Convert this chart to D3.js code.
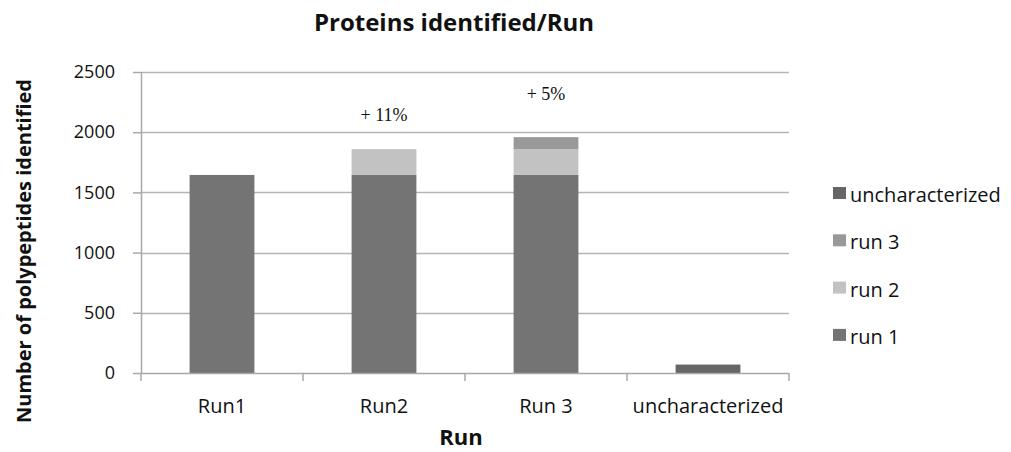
<!DOCTYPE html>
<html lang="en">
<head>
    <meta charset="UTF-8">
    <title>Proteins identified/Run</title>
    <style>
        body { margin: 0; background: #fff; }
        svg text { font-family: "Open Sans", "Noto Sans", sans-serif; fill: #111; }
    </style>
</head>
<body>
    <div id="chart"></div>

    <script src="https://d3js.org/d3.v7.min.js"></script>
    <script>
        // Data.
        var categories = ["Run1", "Run2", "Run 3", "uncharacterized"];
        var run1 = [1645, 1645, 1645, 0];
        var run2 = [0, 214, 214, 0];
        var run3 = [0, 0, 100, 0];
        var uncharacterized = [0, 0, 0, 70];
        var seriesNames = ["run 1", "run 2", "run 3", "uncharacterized"];
        var yTicks = [0, 500, 1000, 1500, 2000, 2500];
        var notes = ["", "+ 11%", "+ 5%", ""];
        var noteLevels = [0, 2090, 2265, 0];

        var colors = {
            "run 1": "#747474",
            "run 2": "#c2c2c2",
            "run 3": "#999999",
            "uncharacterized": "#666666"
        };

        var W = 1011, H = 452;
        var margin = { top: 72, right: 222, bottom: 79, left: 141 };
        var width = W - margin.left - margin.right,
            height = H - margin.top - margin.bottom;

        var rows = categories.map(function(c, i) {
            return { cat: c, "run 1": run1[i], "run 2": run2[i], "run 3": run3[i], "uncharacterized": uncharacterized[i] };
        });

        var stacked = d3.stack().keys(seriesNames)(rows);

        var x = d3.scaleBand()
            .domain(categories)
            .range([0, width])
            .paddingInner(0.6)
            .paddingOuter(0.3);

        var y = d3.scaleLinear()
            .domain([0, 2500])
            .range([height, 0]);

        var svg = d3.select("#chart").append("svg")
            .attr("width", W)
            .attr("height", H);

        var g = svg.append("g")
            .attr("transform", "translate(" + margin.left + "," + margin.top + ")");

        // gridlines
        g.append("g")
            .selectAll("line")
            .data(yTicks.slice(1))
            .enter().append("line")
            .attr("x1", 0).attr("x2", width)
            .attr("y1", function(d) { return Math.round(y(d)) + 0.5; })
            .attr("y2", function(d) { return Math.round(y(d)) + 0.5; })
            .attr("stroke", "#b4b4b4")
            .attr("stroke-width", 1.5);

        // bars
        g.append("g")
            .selectAll("g")
            .data(stacked)
            .enter().append("g")
            .attr("fill", function(s) { return colors[s.key]; })
            .selectAll("rect")
            .data(function(s) { return s; })
            .enter().append("rect")
            .attr("x", function(d) { return x(d.data.cat); })
            .attr("y", function(d) { return y(d[1]); })
            .attr("width", x.bandwidth())
            .attr("height", function(d) { return y(d[0]) - y(d[1]); });

        // y axis
        var yAxis = d3.axisLeft(y)
            .tickValues(yTicks)
            .tickFormat(d3.format("d"))
            .tickSize(8)
            .tickPadding(18);
        var yg = g.append("g").call(yAxis);
        yg.selectAll("path, line").attr("stroke", "#a8a8a8").attr("stroke-width", 1.5);
        yg.select(".domain").attr("d", "M0.5," + height + "V0");
        yg.selectAll("text")
            .style("font-family", "'Open Sans', sans-serif")
            .style("font-size", "18px")
            .attr("fill", "#111");

        // x axis with ticks on band boundaries
        var xg = g.append("g").attr("transform", "translate(0," + height + ")");
        xg.append("line")
            .attr("x1", 0).attr("x2", width)
            .attr("y1", 0.5).attr("y2", 0.5)
            .attr("stroke", "#a8a8a8").attr("stroke-width", 1.5);
        var bounds = d3.range(categories.length + 1).map(function(i) { return i * x.step(); });
        xg.selectAll(".xt")
            .data(bounds)
            .enter().append("line")
            .attr("class", "xt")
            .attr("x1", function(d) { return d; }).attr("x2", function(d) { return d; })
            .attr("y1", 0).attr("y2", 8)
            .attr("stroke", "#a8a8a8").attr("stroke-width", 1.5);
        xg.selectAll(".xl")
            .data(categories)
            .enter().append("text")
            .attr("class", "xl")
            .attr("x", function(d) { return x(d) + x.bandwidth() / 2; })
            .attr("y", 40)
            .attr("text-anchor", "middle")
            .style("font-size", "20px")
            .text(function(d) { return d; });

        // percentage notes
        g.append("g")
            .selectAll("text")
            .data(categories.filter(function(c, i) { return notes[i]; }))
            .enter().append("text")
            .attr("x", function(d) { return x(d) + x.bandwidth() / 2; })
            .attr("y", function(d) { return y(noteLevels[categories.indexOf(d)]); })
            .attr("text-anchor", "middle")
            .style("font-family", "'Liberation Serif', 'Times New Roman', serif")
            .style("font-size", "18px")
            .text(function(d) { return notes[categories.indexOf(d)]; });

        // title
        svg.append("text")
            .attr("x", 454)
            .attr("y", 31)
            .attr("text-anchor", "middle")
            .style("font-size", "24px")
            .style("font-weight", "bold")
            .text("Proteins identified/Run");

        // axis titles
        svg.append("text")
            .attr("x", 461)
            .attr("y", 445)
            .attr("text-anchor", "middle")
            .style("font-size", "22px")
            .style("font-weight", "bold")
            .text("Run");

        svg.append("text")
            .attr("transform", "translate(31,251) rotate(-90)")
            .attr("text-anchor", "middle")
            .style("font-size", "20px")
            .style("font-weight", "bold")
            .text("Number of polypeptides identified");

        // legend, reversed order
        var legend = svg.append("g")
            .attr("transform", "translate(833,187)");
        var items = legend.selectAll("g")
            .data(seriesNames.slice().reverse())
            .enter().append("g")
            .attr("transform", function(d, i) { return "translate(0," + (i * 47.3) + ")"; });
        items.append("rect")
            .attr("width", 13).attr("height", 12)
            .attr("fill", function(d) { return colors[d]; });
        items.append("text")
            .attr("x", 17)
            .attr("y", 15)
            .style("font-size", "20px")
            .text(function(d) { return d; });
    </script>
</body>
</html>
